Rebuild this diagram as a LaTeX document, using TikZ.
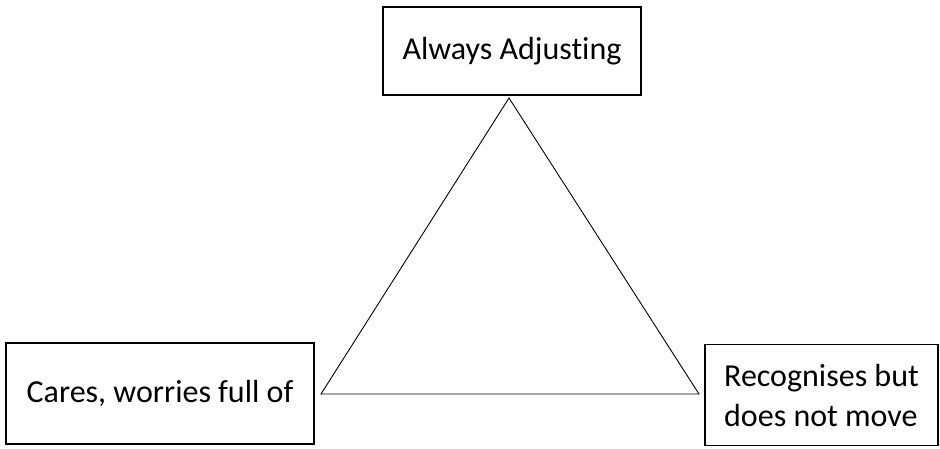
\documentclass[tikz,border=0pt]{standalone}
\usepackage{fontspec}
\setmainfont[Ligatures=NoCommon]{Carlito}
\begin{document}
\begin{tikzpicture}[x=1pt,y=-1pt,
  labelbox/.style={draw=black, line width=1.6pt, inner sep=0pt, align=left,
    font=\fontsize{32}{40}\selectfont},
  triline/.style={draw=black, line width=0.9pt, line join=miter}]
\useasboundingbox (0,0) rectangle (940,448);
\node[labelbox, minimum width=258pt, minimum height=88pt] (top) at (512,51) {Always Adjusting};
\node[labelbox, minimum width=308pt, minimum height=101pt] (left) at (160,393.5) {Cares, worries full of};
\node[labelbox, minimum width=233pt, minimum height=101pt] (right) at (821.5,395) {Recognises but\\does not move};
\coordinate (apex) at (509,98);
\coordinate (bl) at (321,394);
\coordinate (br) at (699,394);
\draw[triline] (apex) -- (bl) -- (br) -- cycle;
\end{tikzpicture}
\end{document}
